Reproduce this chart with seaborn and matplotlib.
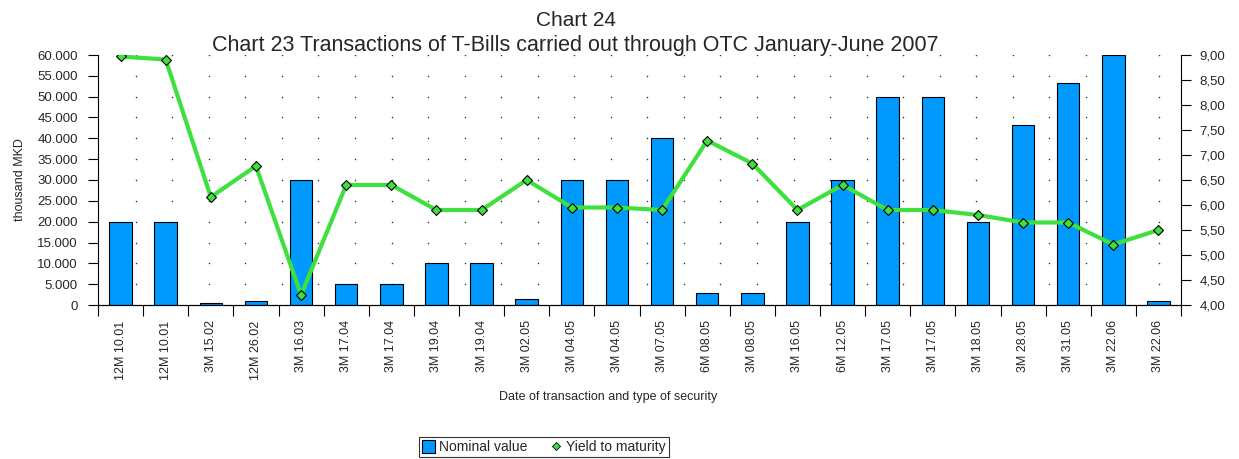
import matplotlib
matplotlib.use('Agg')
import matplotlib.pyplot as plt
import matplotlib.transforms as mtransforms
from matplotlib.lines import Line2D
from matplotlib.patches import Patch
from matplotlib.ticker import FixedLocator, FuncFormatter
import numpy as np
import seaborn as sns

# data
labels = ['12M 10.01', '12M 10.01', '3M 15.02', '12M 26.02', '3M 16.03', '3M 17.04',
          '3M 17.04', '3M 19.04', '3M 19.04', '3M 02.05', '3M 04.05', '3M 04.05',
          '3M 07.05', '6M 08.05', '3M 08.05', '3M 16.05', '6M 12.05', '3M 17.05',
          '3M 17.05', '3M 18.05', '3M 28.05', '3M 31.05', '3M 22.06', '3M 22.06']
nominal = [20000, 20000, 500, 1000, 30000, 5000, 5000, 10000, 10000, 1500, 30000, 30000,
           40000, 3000, 3000, 20000, 30000, 50000, 50000, 20000, 43200, 53300, 60000, 1000]
yields = [8.97, 8.91, 6.16, 6.78, 4.20, 6.40, 6.40, 5.90, 5.90, 6.50, 5.95, 5.95,
          5.90, 7.29, 6.83, 5.90, 6.40, 5.90, 5.90, 5.80, 5.65, 5.65, 5.21, 5.50]

bar_color = '#0099ff'
line_color = '#3ee03e'

sns.set_style('white')
plt.rcParams['font.family'] = ['Liberation Sans', 'DejaVu Sans']

fig = plt.figure(figsize=(12.39, 4.59), dpi=100)
ax = fig.add_axes([98 / 1239, 1 - 305 / 459, (1181 - 98) / 1239, 250 / 459])

idx = np.arange(len(labels))
sns.barplot(x=idx, y=nominal, color=bar_color, saturation=1, width=0.5,
            edgecolor='black', linewidth=0.8, ax=ax, zorder=2)
ax.set_xlim(-0.5, len(labels) - 0.5)
ax.set_ylim(0, 60000)
ax.set_yticks(np.arange(0, 60001, 5000))
ax.yaxis.set_major_formatter(FuncFormatter(lambda v, p: f'{int(v):,}'.replace(',', '.')))
ax.set_xticks(idx)
ax.set_xticklabels(labels, rotation=90, fontsize=9)
ax.xaxis.set_minor_locator(FixedLocator(np.arange(-0.5, len(labels), 1)))
ax.tick_params(axis='x', which='major', length=0, pad=11)
ax.tick_params(axis='x', which='minor', length=8, width=0.8, color='black', direction='out', bottom=True)
ax.tick_params(axis='y', length=7.5, width=0.8, color='black', direction='out', left=True,
               labelsize=9.5, pad=7)
ax.set_ylabel('thousand MKD', fontsize=9)
ax.yaxis.set_label_coords((26 - 98) / 1083, 0.5)
ax.set_xlabel('')

# dotted background grid (dots only at intersections)
trans = mtransforms.blended_transform_factory(ax.transAxes, ax.transData)
gx = np.linspace(0.0348, 0.9797, 29)
gy = np.arange(5000, 60001, 5000)
GX, GY = np.meshgrid(gx, gy)
ax.scatter(GX.ravel(), GY.ravel(), s=1.2, color='#333333', transform=trans, zorder=1, linewidths=0)

ax2 = ax.twinx()
sns.lineplot(x=idx, y=yields, color=line_color, linewidth=3, marker='D', markersize=5,
             markerfacecolor=line_color, markeredgecolor='black', markeredgewidth=0.8, ax=ax2)
ax2.set_ylim(4, 9)
ax2.set_yticks(np.arange(4, 9.01, 0.5))
ax2.yaxis.set_major_formatter(FuncFormatter(lambda v, p: f'{v:.2f}'.replace('.', ',')))
ax2.tick_params(axis='y', length=7.5, width=0.8, color='black', direction='out', right=True,
                labelsize=9.5, pad=6)
ax2.set_xlim(-0.5, len(labels) - 0.5)

for a in (ax, ax2):
    a.spines['top'].set_visible(False)
    for s in ('left', 'right', 'bottom'):
        a.spines[s].set_color('black')
        a.spines[s].set_linewidth(0.8)
ax.spines['right'].set_visible(False)
ax2.spines['left'].set_visible(False)

fig.text(576 / 1239, 1 - 20 / 459, 'Chart 24', ha='center', va='center', fontsize=15)
fig.text(575 / 1239, 1 - 45 / 459,
         'Chart 23 Transactions of T-Bills carried out through OTC January-June 2007',
         ha='center', va='center', fontsize=15.5)
fig.text(608 / 1239, 1 - 397 / 459, 'Date of transaction and type of security',
         ha='center', va='center', fontsize=9)

handles = [Patch(facecolor=bar_color, edgecolor='black', linewidth=0.8),
           Line2D([], [], linestyle='none', marker='D', markersize=4,
                  markerfacecolor=line_color, markeredgecolor='black', markeredgewidth=0.6)]
leg = fig.legend(handles, ['Nominal value', 'Yield to maturity'], loc='center',
                 bbox_to_anchor=(544 / 1239, 1 - 447 / 459), ncol=2, fontsize=10,
                 frameon=True, fancybox=False, edgecolor='black', borderpad=0.2,
                 handlelength=0.9, handleheight=1.1, handletextpad=0.3, columnspacing=1.6,
                 borderaxespad=0)
leg.get_frame().set_linewidth(0.8)

fig.savefig('out.png', dpi=100)
